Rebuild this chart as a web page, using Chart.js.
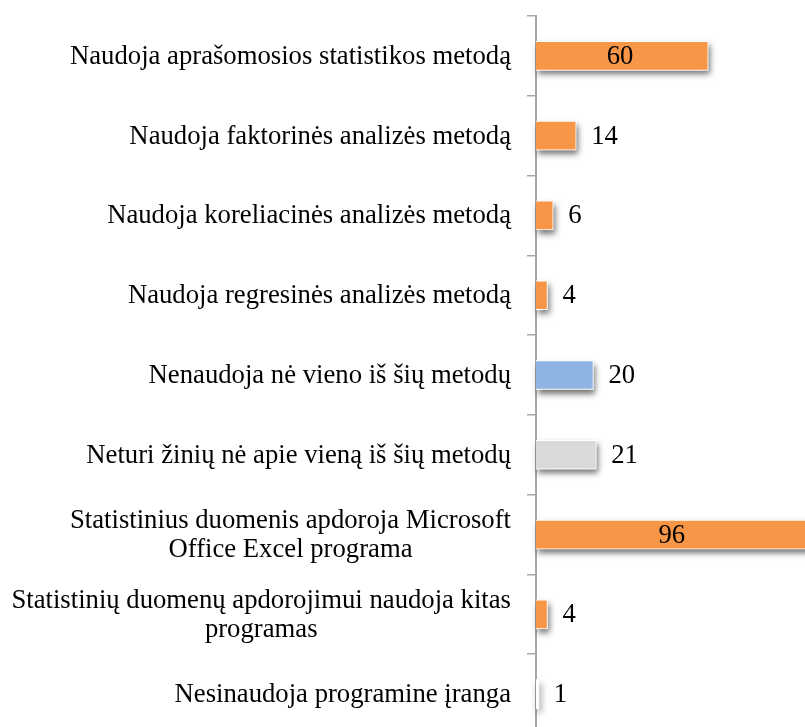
<!DOCTYPE html>
<html>
<head>
<meta charset="utf-8">
<script src="https://cdn.jsdelivr.net/npm/chart.js@4/dist/chart.umd.min.js"></script>
<style>
html,body{margin:0;padding:0;background:#fff;overflow:hidden;}
#wrap{width:805px;height:727px;overflow:hidden;position:relative;}
canvas{position:absolute;left:0;top:0;}
</style>
</head>
<body>
<div id="wrap"><canvas id="c" width="823" height="740"></canvas></div>
<script>
const categories = [
  ['Naudoja aprašomosios statistikos metodą'],
  ['Naudoja faktorinės analizės metodą'],
  ['Naudoja koreliacinės analizės metodą'],
  ['Naudoja regresinės analizės metodą'],
  ['Nenaudoja nė vieno iš šių metodų'],
  ['Neturi žinių nė apie vieną iš šių metodų'],
  ['Statistinius duomenis apdoroja Microsoft', 'Office Excel programa'],
  ['Statistinių duomenų apdorojimui naudoja kitas', 'programas'],
  ['Nesinaudoja programine įranga']
];
const values = [60, 14, 6, 4, 20, 21, 96, 4, 1];
const barColors = ['#F79646', '#F79646', '#F79646', '#F79646', '#8DB4E2', '#D9D9D9', '#F79646', '#F79646', '#FFFFFF'];

const FONT = '26.7px "Liberation Serif", "Times New Roman", serif';

const shadowPlugin = {
  id: 'shadow',
  beforeDatasetsDraw(chart) {
    const ctx = chart.ctx;
    const meta = chart.getDatasetMeta(0);
    ctx.save();
    ctx.shadowColor = 'rgba(0,0,0,0.55)';
    ctx.shadowBlur = 6;
    ctx.shadowOffsetX = 2;
    ctx.shadowOffsetY = 4;
    ctx.fillStyle = '#ffffff';
    meta.data.forEach(bar => {
      const top = bar.y - bar.height / 2;
      ctx.fillRect(bar.base, top, bar.x - bar.base, bar.height);
    });
    ctx.restore();
  }
};

const labelPlugin = {
  id: 'labels',
  afterDraw(chart) {
    const ctx = chart.ctx;
    const meta = chart.getDatasetMeta(0);
    ctx.save();
    ctx.font = FONT;
    ctx.fillStyle = '#000';
    ctx.textBaseline = 'middle';
    meta.data.forEach((bar, i) => {
      const v = values[i];
      if (v >= 50) {
        ctx.textAlign = 'center';
        ctx.fillText(String(v), (bar.base + bar.x) / 2 - 2, bar.y + 1);
      } else {
        ctx.textAlign = 'left';
        ctx.fillText(String(v), bar.x + 15, bar.y + 1);
      }
    });
    const yScale = chart.scales.y;
    const rightEdge = 511;
    const lh = 29;
    categories.forEach((lines, i) => {
      const y = yScale.getPixelForValue(i);
      const w = Math.max(...lines.map(l => ctx.measureText(l).width));
      const cx = rightEdge - w / 2;
      ctx.textAlign = 'center';
      lines.forEach((l, j) => {
        ctx.fillText(l, cx, y + 1 + (j - (lines.length - 1) / 2) * lh);
      });
    });
    ctx.restore();
  }
};

new Chart(document.getElementById('c'), {
  type: 'bar',
  data: {
    labels: categories,
    datasets: [{
      data: values,
      backgroundColor: barColors,
      borderColor: '#FFFFFF',
      borderWidth: 1,
      barThickness: 29
    }]
  },
  options: {
    indexAxis: 'y',
    responsive: false,
    animation: false,
    events: [],
    layout: { padding: { top: 16, bottom: 6, left: 0, right: 0 } },
    plugins: { legend: { display: false }, tooltip: { enabled: false } },
    scales: {
      x: { min: 0, max: 100, display: false },
      y: {
        z: 1,
        afterFit(s) { s.width = 536; },
        ticks: { display: false },
        grid: { drawOnChartArea: false, drawTicks: true, tickLength: 9, color: '#a6a6a6', lineWidth: 1.5 },
        border: { color: '#a6a6a6', width: 2 }
      }
    }
  },
  plugins: [shadowPlugin, labelPlugin]
});
</script>
</body>
</html>
